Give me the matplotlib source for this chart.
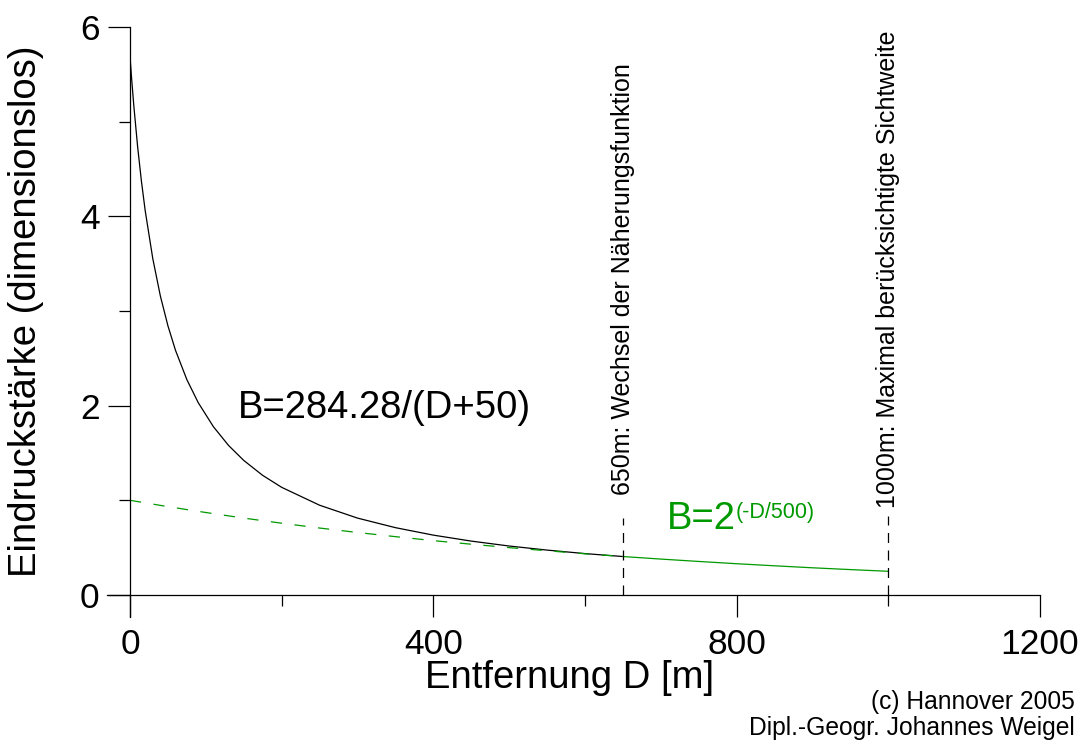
"""
impression strength vs distance: hyperbolic approximation up to 650 m,
exponential halving (2^(-D/500)) beyond, cut at the 1000 m max view distance.
"""

import matplotlib
matplotlib.use("Agg")
import matplotlib.pyplot as plt
from matplotlib.ticker import MultipleLocator

plt.rcParams["font.family"] = ["Liberation Sans", "DejaVu Sans"]

# B = 284.28/(D+50)
d_hyper = [0, 2, 5, 10, 15, 20, 30, 40, 50, 60, 75, 90, 110, 130, 150, 175,
           200, 250, 300, 350, 400, 450, 500, 550, 600, 650]
b_hyper = [5.686, 5.467, 5.169, 4.738, 4.374, 4.061, 3.554, 3.159, 2.843, 2.584,
           2.274, 2.031, 1.777, 1.579, 1.421, 1.263, 1.137, 0.948, 0.812, 0.711,
           0.632, 0.569, 0.517, 0.474, 0.437, 0.406]

# B = 2^(-D/500), dashed part (not used) and solid part (used)
d_exp_dash = [0, 50, 100, 150, 200, 250, 300, 350, 400, 450, 500, 550, 600, 650]
b_exp_dash = [1.000, 0.933, 0.871, 0.812, 0.758, 0.707, 0.660, 0.616, 0.574,
              0.536, 0.500, 0.467, 0.435, 0.406]
d_exp_solid = [650, 700, 750, 800, 850, 900, 950, 1000]
b_exp_solid = [0.406, 0.379, 0.354, 0.330, 0.308, 0.287, 0.268, 0.250]

# marker lines: distance, top of the dashed line, where the label starts
mark_d = [650, 1000]
mark_top = [0.81, 0.83]
mark_label_y = [1.06, 0.92]
mark_text = ["650m: Wechsel der Näherungsfunktion",
             "1000m: Maximal berücksichtigte Sichtweite"]

GREEN = "#009900"
BIG = 27.5

fig = plt.figure(figsize=(10.88, 7.4), dpi=100)
ax = fig.add_axes([0.1195, 0.196, 0.8364, 0.7675])

ax.plot(d_hyper, b_hyper, color="black", lw=0.9)
ax.plot(d_exp_dash, b_exp_dash, color=GREEN, lw=0.9, dashes=(9, 10))
ax.plot(d_exp_solid, b_exp_solid, color=GREEN, lw=0.9)

for d, top, ly, txt in zip(mark_d, mark_top, mark_label_y, mark_text):
    ax.plot([d, d], [0, top], color="black", lw=0.9, dashes=(8, 6))
    ax.text(d, ly, txt, rotation=90, ha="center", va="bottom", fontsize=18)

ax.text(142, 1.975, "B=284.28/(D+50)", fontsize=BIG, va="center")
t = ax.text(708, 0.80, "B=2", fontsize=BIG, color=GREEN, va="center")
ax.annotate("(-D/500)", xy=(1.0, 0.97), xycoords=t, ha="left", va="top",
            fontsize=15.5, color=GREEN)

ax.set_xlim(0, 1200)
ax.set_ylim(0, 6)
for s in ["top", "right"]:
    ax.spines[s].set_visible(False)
for s in ["left", "bottom"]:
    ax.spines[s].set_linewidth(0.9)
ax.spines["bottom"].set_bounds(-30, 1200)
ax.spines["left"].set_bounds(-0.23, 6)

ax.xaxis.set_major_locator(MultipleLocator(400))
ax.xaxis.set_minor_locator(MultipleLocator(200))
ax.yaxis.set_major_locator(MultipleLocator(2))
ax.yaxis.set_minor_locator(MultipleLocator(1))
ax.tick_params(which="major", direction="out", length=16, width=0.9,
               labelsize=25.5)
ax.tick_params(which="minor", direction="out", length=8, width=0.9)
ax.tick_params(axis="x", which="major", pad=8)
ax.tick_params(axis="y", which="major", pad=6)

ax.set_xlabel("Entfernung D [m]", fontsize=BIG)
ax.set_ylabel("Eindruckstärke (dimensionslos)", fontsize=BIG)
ax.xaxis.set_label_coords(0.4835, -0.114)
ax.yaxis.set_label_coords(-0.0945, 0.5)

fig.text(0.988, 0.0514, "(c) Hannover 2005", ha="right", va="center", fontsize=17.7)
fig.text(0.988, 0.0162, "Dipl.-Geogr. Johannes Weigel", ha="right", va="center",
         fontsize=17.7)

fig.savefig("out.png", dpi=100)
